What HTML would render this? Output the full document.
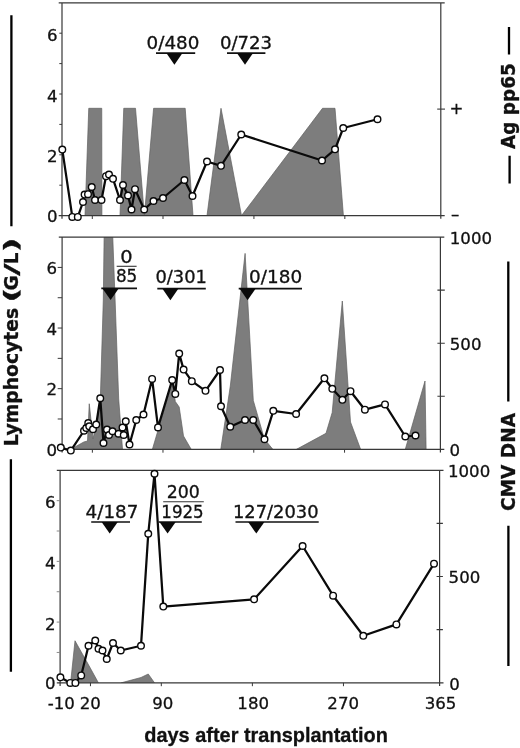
<!DOCTYPE html>
<html lang="en"><head><meta charset="utf-8"><title>Lymphocytes, CMV DNA and Ag pp65 after transplantation</title>
<style>html,body{margin:0;padding:0;background:#fff}svg{display:block;will-change:transform}text{font-family:"DejaVu Sans", "Liberation Sans", sans-serif;fill:#111;stroke:#111;stroke-width:.3px}.xt{font-family:"Liberation Sans",sans-serif;font-weight:bold;font-size:21px}.tk{font-size:16.6px}.an{font-size:17px}.bl{font-weight:bold}</style></head><body>
<svg width="520" height="748" viewBox="0 0 520 748">
<rect width="520" height="748" fill="#fff"/>
<defs>
<clipPath id="c0"><rect x="62.0" y="2.8" width="378.8" height="212.8"/></clipPath>
<clipPath id="c1"><rect x="62.1" y="237.1" width="378.3" height="212.2"/></clipPath>
<clipPath id="c2"><rect x="60.1" y="470.3" width="379.5" height="212.5"/></clipPath>
</defs>
<g clip-path="url(#c0)" fill="#7d7d7d" stroke="#606060" stroke-width="0.7" stroke-linejoin="miter">
<polygon points="85.00,215.60 88.75,108.30 101.75,108.30 101.90,215.60"/>
<polygon points="120.00,215.60 123.75,108.30 135.50,108.30 144.40,215.60 153.60,108.30 185.20,108.30 193.00,215.60"/>
<polygon points="207.00,215.60 221.00,108.30 241.50,215.60"/>
<polygon points="241.50,215.60 322.50,108.30 335.00,108.30 343.40,215.60"/>
</g>
<g clip-path="url(#c1)" fill="#7d7d7d" stroke="#606060" stroke-width="0.7" stroke-linejoin="miter">
<polygon points="70.80,449.30 83.75,442.00 87.50,441.00 89.25,403.75 93.00,438.75 96.25,423.75 100.20,403.00 103.30,300.00 104.20,230.00 112.50,230.00 115.10,300.00 118.70,399.00 122.50,449.30"/>
<polygon points="152.40,449.30 172.40,381.50 175.30,401.50 179.20,407.00 183.50,436.00 191.20,449.30"/>
<polygon points="220.80,449.30 230.30,386.00 245.10,253.40 253.30,400.50 264.40,439.00 272.80,449.30"/>
<polygon points="296.50,449.30 326.00,433.30 332.20,412.50 342.30,301.00 350.50,422.00 360.60,449.30"/>
<polygon points="405.30,449.30 425.00,381.00 426.10,449.30"/>
</g>
<g clip-path="url(#c2)" fill="#7d7d7d" stroke="#606060" stroke-width="0.7" stroke-linejoin="miter">
<polygon points="70.60,682.80 75.00,640.75 81.00,651.50 88.50,664.80 98.40,682.80"/>
<polygon points="121.25,682.80 141.00,677.50 148.25,674.00 154.50,682.80"/>
</g>
<g stroke="#383838" stroke-width="1.2" fill="none">
<path d="M58.7 2.8H444.7M58.7 215.6H444.7M62.0 2.8V218.8M440.8 2.8V218.8"/>
<path d="M59.3 185.20H62.0M59.3 154.80H62.0M59.3 124.40H62.0M59.3 94.00H62.0M59.3 63.60H62.0M59.3 33.20H62.0" stroke-width="1"/>
<path d="M92.30 215.6V219.0M163.01 215.6V219.0M253.93 215.6V219.0M344.84 215.6V219.0" stroke-width="1"/>
<path d="M437.2 109.1H445.0" stroke-width="1.1"/>
</g>
<g stroke="#383838" stroke-width="1.2" fill="none">
<path d="M58.8 237.1H444.3M58.8 449.3H444.3M62.1 237.1V452.5M440.4 237.1V452.5"/>
<path d="M57.7 418.99H62.1M57.7 388.67H62.1M57.7 358.36H62.1M57.7 328.04H62.1M57.7 297.73H62.1M57.7 267.41H62.1" stroke-width="1"/>
<path d="M92.36 449.3V452.7M162.98 449.3V452.7M253.77 449.3V452.7M344.56 449.3V452.7" stroke-width="1"/>
<path d="M437.4 396.25H444.8M437.4 343.20H444.8M437.4 290.15H444.8" stroke-width="1.1"/>
</g>
<g stroke="#383838" stroke-width="1.2" fill="none">
<path d="M56.8 470.3H443.5M56.8 682.8H443.5M60.1 470.3V686.0M439.6 470.3V686.0"/>
<path d="M56.7 652.44H60.1M56.7 622.09H60.1M56.7 591.73H60.1M56.7 561.37H60.1M56.7 531.01H60.1M56.7 500.66H60.1" stroke-width="1" stroke="#8a8a8a"/>
<path d="M90.46 682.8V686.2M161.30 682.8V686.2M252.38 682.8V686.2M343.46 682.8V686.2" stroke-width="1"/>
<path d="M436.6 629.67H442.9M436.6 576.55H442.9M436.6 523.42H442.9" stroke-width="1.1"/>
</g>
<text class="tk" x="57.5" y="222.0" text-anchor="end">0</text>
<text class="tk" x="57.5" y="162.4" text-anchor="end">2</text>
<text class="tk" x="57.5" y="101.6" text-anchor="end">4</text>
<text class="tk" x="57.5" y="40.8" text-anchor="end">6</text>
<text class="tk" x="57.0" y="455.7" text-anchor="end">0</text>
<text class="tk" x="57.0" y="395.3" text-anchor="end">2</text>
<text class="tk" x="57.0" y="334.6" text-anchor="end">4</text>
<text class="tk" x="57.0" y="274.0" text-anchor="end">6</text>
<text class="tk" x="55.6" y="689.2" text-anchor="end">0</text>
<text class="tk" x="55.6" y="629.7" text-anchor="end">2</text>
<text class="tk" x="55.6" y="569.0" text-anchor="end">4</text>
<text class="tk" x="55.6" y="508.3" text-anchor="end">6</text>
<text class="tk" x="449.6" y="114.0">+</text>
<text class="tk" x="450.9" y="220.4">–</text>
<text class="tk" x="449.8" y="244.0">1000</text>
<text class="tk" x="449.8" y="350.2">500</text>
<text class="tk" x="449.6" y="456.0">0</text>
<text class="tk" x="448.0" y="477.4">1000</text>
<text class="tk" x="448.6" y="582.8">500</text>
<text class="tk" x="449.2" y="689.6">0</text>
<text class="tk" x="47.7" y="709.2">-10</text>
<text class="tk" x="90.3" y="709.2" text-anchor="middle">20</text>
<text class="tk" x="162.8" y="709.2" text-anchor="middle">90</text>
<text class="tk" x="253.2" y="709.2" text-anchor="middle">180</text>
<text class="tk" x="343.2" y="709.2" text-anchor="middle">270</text>
<text class="tk" x="440.6" y="709.2" text-anchor="middle">365</text>
<text class="xt" transform="translate(266.1 741.6) scale(0.95 1)" text-anchor="middle">days after transplantation</text>
<g stroke="#000" stroke-width="2.3" fill="none">
<path d="M11.4 15.3V226.2M10.9 459.3V671.8"/>
<path d="M509 27.1V54.6M509.6 155.8V183.6M508.3 261.4V401.6M508.4 525.8V666"/>
</g>
<text class="bl" transform="translate(17.9 444.7) rotate(-90) scale(1 1.09)" font-size="18.4"><tspan x="-1.6" textLength="138.6" lengthAdjust="spacingAndGlyphs">Lymphocytes</tspan> <tspan x="142.2" textLength="15" lengthAdjust="spacingAndGlyphs">(</tspan><tspan x="154.2">G</tspan><tspan x="169.0" textLength="12.4" lengthAdjust="spacingAndGlyphs">/</tspan><tspan x="180.5">L</tspan><tspan x="192.3" textLength="15" lengthAdjust="spacingAndGlyphs">)</tspan></text>
<text class="bl" transform="translate(515.1 148.9) rotate(-90) scale(1 1.04)" font-size="18.4" textLength="85.6" lengthAdjust="spacingAndGlyphs">Ag pp65</text>
<text class="bl" transform="translate(515.3 462.0) rotate(-90)" text-anchor="middle" font-size="19" textLength="98.2" lengthAdjust="spacingAndGlyphs">CMV DNA</text>
<polyline points="62.30,149.60 72.30,216.90 77.80,216.90 83.00,202.00 84.60,194.60 88.00,194.20 91.75,187.00 95.00,200.00 101.50,200.00 106.00,176.20 109.00,174.50 113.00,178.80 120.00,200.00 123.00,185.00 128.00,195.50 131.50,209.50 135.00,189.20 144.20,209.50 153.50,201.00 163.00,198.00 184.40,180.00 192.50,196.00 207.00,161.50 221.00,165.80 241.25,134.50 322.00,160.50 335.00,149.30 343.25,128.00 377.50,119.25" fill="none" stroke="#0a0a0a" stroke-width="2.25" stroke-linejoin="round"/>
<g fill="#fff" stroke="#0a0a0a" stroke-width="1.4">
<circle cx="62.30" cy="149.60" r="3.3"/>
<circle cx="72.30" cy="216.90" r="3.3"/>
<circle cx="77.80" cy="216.90" r="3.3"/>
<circle cx="83.00" cy="202.00" r="3.3"/>
<circle cx="84.60" cy="194.60" r="3.3"/>
<circle cx="88.00" cy="194.20" r="3.3"/>
<circle cx="91.75" cy="187.00" r="3.3"/>
<circle cx="95.00" cy="200.00" r="3.3"/>
<circle cx="101.50" cy="200.00" r="3.3"/>
<circle cx="106.00" cy="176.20" r="3.3"/>
<circle cx="109.00" cy="174.50" r="3.3"/>
<circle cx="113.00" cy="178.80" r="3.3"/>
<circle cx="120.00" cy="200.00" r="3.3"/>
<circle cx="123.00" cy="185.00" r="3.3"/>
<circle cx="128.00" cy="195.50" r="3.3"/>
<circle cx="131.50" cy="209.50" r="3.3"/>
<circle cx="135.00" cy="189.20" r="3.3"/>
<circle cx="144.20" cy="209.50" r="3.3"/>
<circle cx="153.50" cy="201.00" r="3.3"/>
<circle cx="163.00" cy="198.00" r="3.3"/>
<circle cx="184.40" cy="180.00" r="3.3"/>
<circle cx="192.50" cy="196.00" r="3.3"/>
<circle cx="207.00" cy="161.50" r="3.3"/>
<circle cx="221.00" cy="165.80" r="3.3"/>
<circle cx="241.25" cy="134.50" r="3.3"/>
<circle cx="322.00" cy="160.50" r="3.3"/>
<circle cx="335.00" cy="149.30" r="3.3"/>
<circle cx="343.25" cy="128.00" r="3.3"/>
<circle cx="377.50" cy="119.25" r="3.3"/>
</g>
<polyline points="60.80,447.60 70.80,450.60 84.00,430.75 86.25,428.00 88.25,423.00 89.25,426.25 93.00,429.25 96.25,424.50 100.25,398.25 103.50,443.00 107.00,429.50 109.00,435.00 112.50,431.25 118.50,433.75 122.50,427.50 123.75,435.00 125.75,421.25 129.50,444.50 136.25,420.00 143.50,414.50 152.10,378.90 158.00,427.40 172.20,380.00 175.30,393.90 179.20,353.60 183.60,369.60 191.80,381.20 205.50,390.80 220.00,370.00 221.00,406.25 230.25,426.75 245.00,420.00 253.25,420.00 264.50,439.25 273.30,410.80 296.10,414.00 324.40,378.30 332.30,388.80 342.40,399.80 350.50,391.20 364.90,409.70 385.00,404.40 405.30,436.50 415.50,435.50" fill="none" stroke="#0a0a0a" stroke-width="2.25" stroke-linejoin="round"/>
<g fill="#fff" stroke="#0a0a0a" stroke-width="1.4">
<circle cx="60.80" cy="447.60" r="3.3"/>
<circle cx="70.80" cy="450.60" r="3.3"/>
<circle cx="84.00" cy="430.75" r="3.3"/>
<circle cx="86.25" cy="428.00" r="3.3"/>
<circle cx="88.25" cy="423.00" r="3.3"/>
<circle cx="89.25" cy="426.25" r="3.3"/>
<circle cx="93.00" cy="429.25" r="3.3"/>
<circle cx="96.25" cy="424.50" r="3.3"/>
<circle cx="100.25" cy="398.25" r="3.3"/>
<circle cx="103.50" cy="443.00" r="3.3"/>
<circle cx="107.00" cy="429.50" r="3.3"/>
<circle cx="109.00" cy="435.00" r="3.3"/>
<circle cx="112.50" cy="431.25" r="3.3"/>
<circle cx="118.50" cy="433.75" r="3.3"/>
<circle cx="122.50" cy="427.50" r="3.3"/>
<circle cx="123.75" cy="435.00" r="3.3"/>
<circle cx="125.75" cy="421.25" r="3.3"/>
<circle cx="129.50" cy="444.50" r="3.3"/>
<circle cx="136.25" cy="420.00" r="3.3"/>
<circle cx="143.50" cy="414.50" r="3.3"/>
<circle cx="152.10" cy="378.90" r="3.3"/>
<circle cx="158.00" cy="427.40" r="3.3"/>
<circle cx="172.20" cy="380.00" r="3.3"/>
<circle cx="175.30" cy="393.90" r="3.3"/>
<circle cx="179.20" cy="353.60" r="3.3"/>
<circle cx="183.60" cy="369.60" r="3.3"/>
<circle cx="191.80" cy="381.20" r="3.3"/>
<circle cx="205.50" cy="390.80" r="3.3"/>
<circle cx="220.00" cy="370.00" r="3.3"/>
<circle cx="221.00" cy="406.25" r="3.3"/>
<circle cx="230.25" cy="426.75" r="3.3"/>
<circle cx="245.00" cy="420.00" r="3.3"/>
<circle cx="253.25" cy="420.00" r="3.3"/>
<circle cx="264.50" cy="439.25" r="3.3"/>
<circle cx="273.30" cy="410.80" r="3.3"/>
<circle cx="296.10" cy="414.00" r="3.3"/>
<circle cx="324.40" cy="378.30" r="3.3"/>
<circle cx="332.30" cy="388.80" r="3.3"/>
<circle cx="342.40" cy="399.80" r="3.3"/>
<circle cx="350.50" cy="391.20" r="3.3"/>
<circle cx="364.90" cy="409.70" r="3.3"/>
<circle cx="385.00" cy="404.40" r="3.3"/>
<circle cx="405.30" cy="436.50" r="3.3"/>
<circle cx="415.50" cy="435.50" r="3.3"/>
</g>
<polyline points="60.40,677.30 70.30,682.90 75.40,682.90 81.20,675.40 88.50,645.75 95.25,640.50 98.50,648.75 102.50,650.50 106.75,659.00 113.00,643.00 120.75,650.50 141.00,645.75 148.25,533.75 154.50,473.75 163.30,606.60 254.10,599.30 302.60,546.00 333.10,595.70 363.30,635.80 396.40,624.40 434.00,563.70" fill="none" stroke="#0a0a0a" stroke-width="2.25" stroke-linejoin="round"/>
<g fill="#fff" stroke="#0a0a0a" stroke-width="1.4">
<circle cx="60.40" cy="677.30" r="3.3"/>
<circle cx="70.30" cy="682.90" r="3.3"/>
<circle cx="75.40" cy="682.90" r="3.3"/>
<circle cx="81.20" cy="675.40" r="3.3"/>
<circle cx="88.50" cy="645.75" r="3.3"/>
<circle cx="95.25" cy="640.50" r="3.3"/>
<circle cx="98.50" cy="648.75" r="3.3"/>
<circle cx="102.50" cy="650.50" r="3.3"/>
<circle cx="106.75" cy="659.00" r="3.3"/>
<circle cx="113.00" cy="643.00" r="3.3"/>
<circle cx="120.75" cy="650.50" r="3.3"/>
<circle cx="141.00" cy="645.75" r="3.3"/>
<circle cx="148.25" cy="533.75" r="3.3"/>
<circle cx="154.50" cy="473.75" r="3.3"/>
<circle cx="163.30" cy="606.60" r="3.3"/>
<circle cx="254.10" cy="599.30" r="3.3"/>
<circle cx="302.60" cy="546.00" r="3.3"/>
<circle cx="333.10" cy="595.70" r="3.3"/>
<circle cx="363.30" cy="635.80" r="3.3"/>
<circle cx="396.40" cy="624.40" r="3.3"/>
<circle cx="434.00" cy="563.70" r="3.3"/>
</g>
<text class="an" x="146.6" y="49.4" textLength="52.8" lengthAdjust="spacingAndGlyphs">0/480</text>
<path d="M156 53.1H195.2" stroke="#111" stroke-width="1.7"/>
<polygon points="166.3,53.1 182.5,53.1 174.4,64.7" fill="#0a0a0a"/>
<text class="an" x="219.9" y="49.4" textLength="52.2" lengthAdjust="spacingAndGlyphs">0/723</text>
<path d="M227 53.1H265.4" stroke="#111" stroke-width="1.7"/>
<polygon points="236.9,53.1 253.1,53.1 245,64.7" fill="#0a0a0a"/>
<text class="an" x="155.4" y="282.6" textLength="51.5" lengthAdjust="spacingAndGlyphs">0/301</text>
<path d="M157.3 288.6H205.8" stroke="#111" stroke-width="1.7"/>
<polygon points="162.3,288.6 178.5,288.6 170.4,300.2" fill="#0a0a0a"/>
<text class="an" x="249.1" y="282.6" textLength="53.0" lengthAdjust="spacingAndGlyphs">0/180</text>
<path d="M238.7 288.6H302" stroke="#111" stroke-width="1.7"/>
<polygon points="239.5,288.6 255.7,288.6 247.6,300.2" fill="#0a0a0a"/>
<text class="an" x="85.6" y="518.2" textLength="52.8" lengthAdjust="spacingAndGlyphs">4/187</text>
<path d="M91.2 522H130" stroke="#111" stroke-width="1.7"/>
<polygon points="101.6,522 117.8,522 109.7,533.6" fill="#0a0a0a"/>
<text class="an" x="232.9" y="518.2" textLength="85.7" lengthAdjust="spacingAndGlyphs">127/2030</text>
<path d="M235.5 522H318.7" stroke="#111" stroke-width="1.7"/>
<polygon points="248.2,522 264.4,522 256.3,533.6" fill="#0a0a0a"/>
<text transform="translate(126.3 263.3) scale(1.13 1)" text-anchor="middle" font-size="17.2">0</text>
<path d="M116.7 266.3H136.6" stroke="#333" stroke-width="1.1"/>
<text transform="translate(126.6 282.4) scale(0.98 1)" text-anchor="middle" font-size="17.2">85</text>
<path d="M101.3 288.4H137" stroke="#111" stroke-width="1.7"/>
<polygon points="102.5,288.4 118.7,288.4 110.6,300.0" fill="#0a0a0a"/>
<text transform="translate(183.2 498.3) scale(1.01 1)" text-anchor="middle" font-size="17.2">200</text>
<path d="M163.2 501.8H203.8" stroke="#333" stroke-width="1.1"/>
<text transform="translate(182.5 517.9) scale(0.97 1)" text-anchor="middle" font-size="17.2">1925</text>
<path d="M158.7 522H201.8" stroke="#111" stroke-width="1.7"/>
<polygon points="159.5,522 175.7,522 167.6,533.6" fill="#0a0a0a"/>
</svg></body></html>
